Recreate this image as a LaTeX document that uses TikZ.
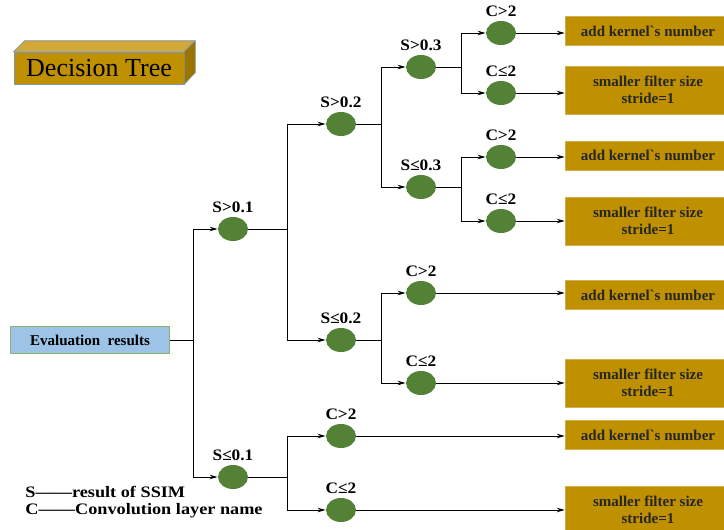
\documentclass[tikz,border=0pt]{standalone}
\usepackage{fontspec}
\setmainfont{Liberation Serif}[Ligatures=TeXOff]
\newfontfamily\widefont{Liberation Serif}[Ligatures=TeXOff,FakeStretch=1.08]
\newfontfamily\widerfont{Liberation Serif}[Ligatures=TeXOff,FakeStretch=1.14]
\usetikzlibrary{shapes.geometric}
\usetikzlibrary{positioning}
\usetikzlibrary{arrows.meta}

\definecolor{leafgreen}{HTML}{538135}
\definecolor{boxgold}{HTML}{BF9000}
\definecolor{goldtop}{HTML}{D2A838}
\definecolor{goldside}{HTML}{9C7400}
\definecolor{evalblue}{HTML}{9DC3E6}
\definecolor{evalrim}{HTML}{8DB36A}
\definecolor{titlerim}{HTML}{7F97AD}

\begin{document}
\begin{tikzpicture}[x=1pt,y=-1pt,>={Stealth[length=8pt,width=4.5pt]},line width=0.9pt,
	main node/.style={ellipse,fill=leafgreen,minimum width=30pt,minimum height=24pt,inner sep=0pt},
	cond/.style={font=\widefont\bfseries\fontsize{16}{18}\selectfont,label distance=0pt},
	action box/.style={fill=boxgold,draw=boxgold!70!white,line width=0.5pt,minimum width=166pt,
		align=center,text=black!85,font=\bfseries\fontsize{15}{17}\selectfont},
	eval box/.style={fill=evalblue,draw=evalrim,line width=0.8pt,minimum width=159pt,minimum height=27pt,
		font=\bfseries\fontsize{15}{17}\selectfont},
	title box/.style={fill=boxgold,draw=titlerim,line width=0.6pt,minimum width=170pt,minimum height=32pt,
		font=\fontsize{26}{30}\selectfont},
	legend/.style={anchor=west,inner sep=0pt,font=\widerfont\bfseries\fontsize{16}{18}\selectfont}]
	\clip (0,0) rectangle (724,530);
	
	% title block
	\node[title box] (title) at (99,68) {Decision Tree};
	\filldraw[fill=goldtop,draw=titlerim,line width=0.6pt] (title.north west) -- ++(11,-11) -- ++(170,0) -- (title.north east) -- cycle;
	\filldraw[fill=goldside,draw=titlerim,line width=0.6pt] (title.north east) -- ++(11,-11) -- ++(0,32) -- (title.south east) -- cycle;
	
	% root
	\node[eval box] (eval) at (90,340) {Evaluation\ \ results};
	
	% SSIM tests
	\node[main node,label={[cond]above:S>0.1}] (s1) at (233,229) {};
	\node[main node,label={[cond]above:S≤0.1}] (s2) at (233,477) {};
	\node[main node,label={[cond]above:S>0.2}] (s11) at (341,124) {};
	\node[main node,label={[cond]above:S≤0.2}] (s12) at (341,340) {};
	\node[main node,label={[cond]above:S>0.3}] (s111) at (421,67) {};
	\node[main node,label={[cond]above:S≤0.3}] (s112) at (421,187) {};
	
	% layer tests
	\node[main node,label={[cond]above:C>2}] (c1) at (501,33) {};
	\node[main node,label={[cond]above:C≤2}] (c2) at (501,93) {};
	\node[main node,label={[cond]above:C>2}] (c3) at (501,157) {};
	\node[main node,label={[cond]above:C≤2}] (c4) at (501,221) {};
	\node[main node,label={[cond]above:C>2}] (c5) at (421,293) {};
	\node[main node,label={[cond]above:C≤2}] (c6) at (421,383) {};
	\node[main node,label={[cond]above:C>2}] (c7) at (341,436) {};
	\node[main node,label={[cond]above:C≤2}] (c8) at (341,510) {};
	
	% actions
	\node[action box,minimum height=29pt] (a1) at (648,31) {add\ kernel`s number};
	\node[action box,minimum height=48pt] (a2) at (648,90) {smaller\ filter size\\stride=1};
	\node[action box,minimum height=29pt] (a3) at (648,155.5) {add\ kernel`s number};
	\node[action box,minimum height=48pt] (a4) at (648,221) {smaller\ filter size\\stride=1};
	\node[action box,minimum height=29pt] (a5) at (648,295) {add\ kernel`s number};
	\node[action box,minimum height=48pt] (a6) at (648,383) {smaller\ filter size\\stride=1};
	\node[action box,minimum height=29pt] (a7) at (648,435) {add\ kernel`s number};
	\node[action box,minimum height=48pt] (a8) at (648,510) {smaller\ filter size\\stride=1};
	
	% branch points
	\coordinate (j0) at (193,340);
	\coordinate (j1) at (287,229);
	\coordinate (j2) at (287,477);
	\coordinate (j3) at (381,124);
	\coordinate (j4) at (381,340);
	\coordinate (j5) at (461,67);
	\coordinate (j6) at (461,187);
	
	\draw (eval) -- (j0);
	\draw[->] (j0) |- (s1);
	\draw[->] (j0) |- (s2);
	\draw (s1) -- (j1);
	\draw[->] (j1) |- (s11);
	\draw[->] (j1) |- (s12);
	\draw (s2) -- (j2);
	\draw[->] (j2) |- (c7);
	\draw[->] (j2) |- (c8);
	\draw (s11) -- (j3);
	\draw[->] (j3) |- (s111);
	\draw[->] (j3) |- (s112);
	\draw (s12) -- (j4);
	\draw[->] (j4) |- (c5);
	\draw[->] (j4) |- (c6);
	\draw (s111) -- (j5);
	\draw[->] (j5) |- (c1);
	\draw[->] (j5) |- (c2);
	\draw (s112) -- (j6);
	\draw[->] (j6) |- (c3);
	\draw[->] (j6) |- (c4);
	
	\foreach \c/\a in {c1/a1,c2/a2,c3/a3,c4/a4,c5/a5,c6/a6,c7/a7,c8/a8}
		\draw[->] (\c.east) -- (\c.east -| \a.west);
	
	% legend
	\node[legend] (legS) at (25,492) {S——result of SSIM};
	\node[legend] (legC) at (25,511) {C——Convolution layer name};
\end{tikzpicture}
\end{document}
